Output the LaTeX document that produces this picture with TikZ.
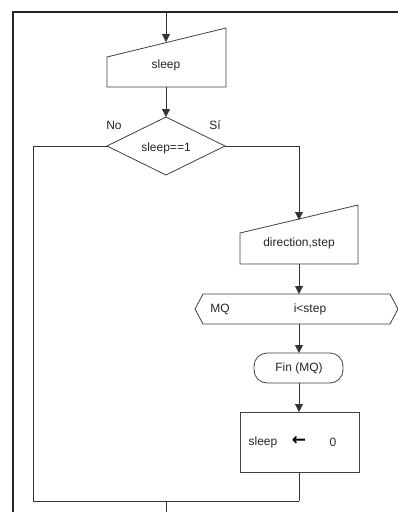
\documentclass[tikz,border=0pt]{standalone}
\usepackage{fontspec}
\setmainfont{Liberation Sans}
\newfontfamily\djv{DejaVu Sans}
\usetikzlibrary{arrows.meta}
\begin{document}
\begin{tikzpicture}[x=1pt,y=-1pt,
  shp/.style={draw=black!75,line width=0.8pt,fill=white},
  lnk/.style={draw=black!80,line width=0.8pt},
  arr/.style={lnk,-{Triangle[length=8pt,width=8pt]}},
  txt/.style={font=\fontsize{12}{14}\selectfont,inner sep=0pt,text=black!85}]
\useasboundingbox (0,0) rectangle (398,512);
% frame
\draw[black!85,line width=1.6pt] (13,512) -- (13,12) -- (398,12);
% sleep input
\draw[shp] (107,57) -- (226,28) -- (226,87) -- (107,87) -- cycle;
\node[txt] (s1) at (166,65) {sleep};
\coordinate (s1t) at (166,42);
\coordinate (s1b) at (166,87);
\coordinate (top) at (166,12);
% diamond
\draw[shp] (166,117) -- (225,146) -- (166,175) -- (107,146) -- cycle;
\node[txt] (d) at (166,148) {sleep==1};
\coordinate (dt) at (166,117);
\coordinate (dl) at (107,146);
\coordinate (dr) at (225,146);
\node[txt] (no) at (114,125) {No};
\node[txt] (si) at (215,125) {Sí};
% direction,step
\draw[shp] (240,233) -- (358,205) -- (358,264) -- (240,264) -- cycle;
\node[txt] (ds) at (299,243) {direction,step};
\coordinate (dst) at (299,220);
\coordinate (dsb) at (299,264);
% hexagon
\draw[shp] (195,309) -- (203,294) -- (390,294) -- (398,309) -- (390,324) -- (203,324) -- cycle;
\node[txt] (mq) at (220,309) {MQ};
\node[txt] (cond) at (310,309) {i<step};
\coordinate (ht) at (299,294);
\coordinate (hb) at (299,324);
% Fin (MQ)
\draw[shp,rounded corners=13pt] (254,353) rectangle (343,383);
\node[txt] (fin) at (299,368) {Fin (MQ)};
\coordinate (ft) at (299,353);
\coordinate (fb) at (299,383);
% assignment
\draw[shp] (240,412) rectangle (359,472);
\node[txt] (a1) at (263,442) {sleep};
\node[txt,text=black] (a2) at (299,441) {\fontsize{17}{18}\selectfont\djv\bfseries ←};
\node[txt] (a3) at (333,442) {0};
\coordinate (at) at (299,412);
\coordinate (ab) at (299,472);
% joins
\coordinate (jl) at (33,501);
\coordinate (jr) at (299,501);
\coordinate (jm) at (166,501);
\coordinate (bot) at (166,512);
% connectors
\draw[arr] (top) -- (s1t);
\draw[arr] (s1b) -- (dt);
\draw[lnk] (dl) -- (33,146) -- (jl) -- (jr);
\draw[arr] (dr) -- (299,146) -- (dst);
\draw[arr] (dsb) -- (ht);
\draw[arr] (hb) -- (ft);
\draw[arr] (fb) -- (at);
\draw[lnk] (ab) -- (jr);
\draw[lnk] (jm) -- (bot);
\end{tikzpicture}
\end{document}
